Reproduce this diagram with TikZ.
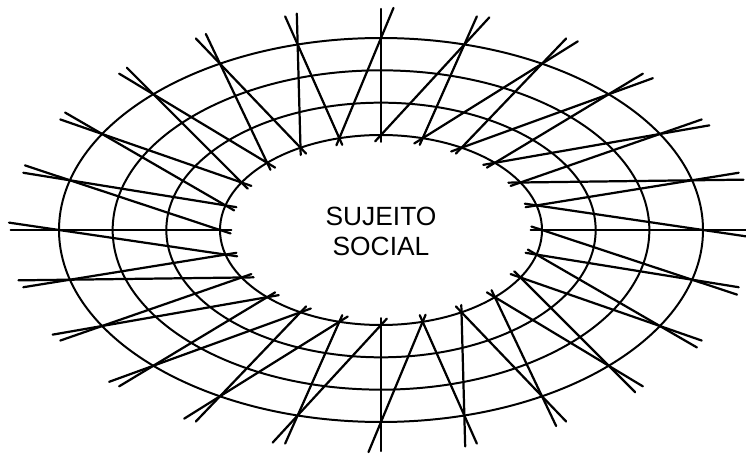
\documentclass[tikz,border=0pt]{standalone}
\usepackage{fontspec}
\setmainfont{Liberation Sans}
\usetikzlibrary{calc}

\begin{document}
\begin{tikzpicture}[
    x=0.03cm, y=-0.03cm,
    ring/.style={draw, line width=1.7pt},
    spoke/.style={draw, line width=1.9pt, line cap=round},
    caption/.style={align=center, font=\fontsize{22.5}{25.5}\selectfont}
]
\useasboundingbox (0,0) rectangle (746,457);

% Rings
\foreach \s in {0,1,2,3}
  \draw[ring] (381,230) ellipse [x radius={161+53.67*\s}, y radius={95+32.33*\s}];

% Points on the inner and outer ring
\foreach \k in {0,...,23} {
  \coordinate (inner-\k) at ({381+161*cos(15*\k)}, {230-95*sin(15*\k)});
  \coordinate (outer-\k) at ({381+322*cos(15*\k)}, {230-192*sin(15*\k)});
}

% Spokes
\foreach \k [evaluate=\k as \n using {int(mod(\k+1,24))}] in {0,...,23} {
  \draw[spoke] ($(inner-\k)!-0.07!(outer-\k)$) -- ($(inner-\k)!1.3!(outer-\k)$);
  \draw[spoke] ($(inner-\n)!-0.07!(outer-\k)$) -- ($(inner-\n)!1.3!(outer-\k)$);
}

% Label
\node[caption] (subject) at (381,231) {SUJEITO\\SOCIAL};

\end{tikzpicture}
\end{document}
